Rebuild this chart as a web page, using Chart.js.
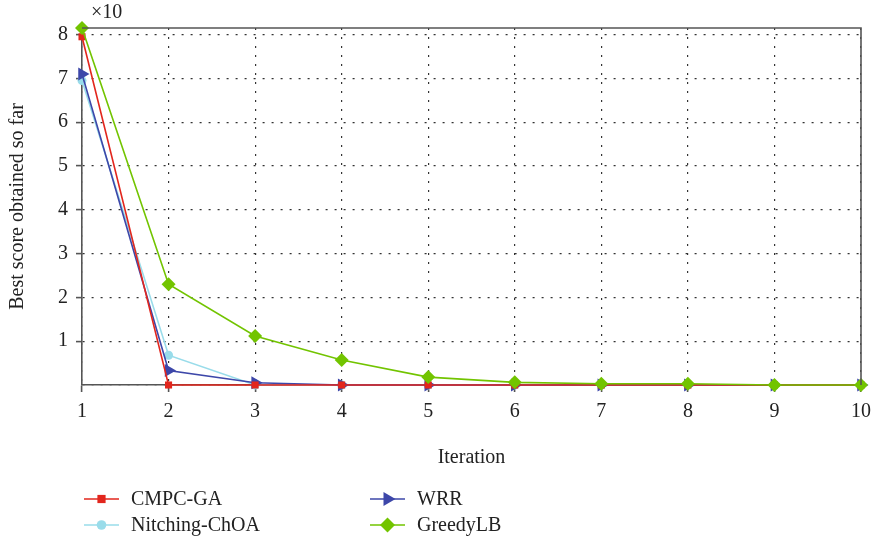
<!DOCTYPE html>
<html>
<head>
<meta charset="utf-8">
<script src="https://cdn.jsdelivr.net/npm/chart.js@4/dist/chart.umd.min.js"></script>
<style>
html,body{margin:0;padding:0;background:#fff;}
#wrap{width:872px;height:546px;position:relative;}
</style>
</head>
<body>
<div id="wrap"><canvas id="c" width="872" height="546"></canvas></div>
<script>
const iterations = ['1','2','3','4','5','6','7','8','9','10'];
const cmpcGA     = [7.95, 0, 0, 0, 0, 0, 0, 0, 0, 0];
const nitching   = [6.95, 0.68, 0, 0, 0, 0, 0, 0, 0, 0];
const wrr        = [7.1, 0.33, 0.05, 0, 0, 0, 0, 0, 0, 0];
const greedyLB   = [8.15, 2.3, 1.12, 0.57, 0.18, 0.06, 0.03, 0.03, 0, 0];
const yTicks     = [1, 2, 3, 4, 5, 6, 7, 8];
const seriesNames = ['CMPC-GA', 'Nitching-ChOA', 'WRR', 'GreedyLB'];
const multiplierLabel = '\u00d710';
const xTitle = 'Iteration';
const yTitle = 'Best score obtained so far';

const FONT = "'Liberation Serif', 'DejaVu Serif', serif";
const colors = ['#e2261d', '#99dcea', '#3d47a9', '#72c400'];
const styles = [
  {pointStyle:'rect', radius:5, rotation:0},
  {pointStyle:'circle', radius:4.5, rotation:0},
  {pointStyle:'triangle', radius:7.5, rotation:90},
  {pointStyle:'rectRot', radius:7, rotation:0}
];
const legendRadius = [5.8, 4.8, 8, 7.5];
const seriesData = [cmpcGA, nitching, wrr, greedyLB];
const orders = [1, 3, 2, 0];

const datasets = seriesData.map((d, i) => ({
  label: seriesNames[i],
  data: d,
  borderColor: colors[i],
  backgroundColor: colors[i],
  pointBackgroundColor: colors[i],
  pointBorderColor: colors[i],
  pointBorderWidth: 0,
  borderWidth: 1.6,
  pointStyle: styles[i].pointStyle,
  pointRadius: styles[i].radius,
  pointRotation: styles[i].rotation,
  pointHoverRadius: styles[i].radius,
  tension: 0,
  clip: false,
  order: orders[i]
}));

const framePlugin = {
  id: 'frame',
  afterDraw(chart) {
    const {ctx, chartArea: a} = chart;
    ctx.save();
    ctx.strokeStyle = '#555';
    ctx.lineWidth = 1.6;
    ctx.beginPath();
    ctx.moveTo(a.left, a.top);
    ctx.lineTo(a.right, a.top);
    ctx.lineTo(a.right, a.bottom);
    ctx.stroke();
    // multiplier
    ctx.fillStyle = '#222';
    ctx.font = '20px ' + FONT;
    ctx.textAlign = 'left';
    ctx.textBaseline = 'middle';
    ctx.fillText(multiplierLabel, a.left + 9, 13);
    // legend
    const pos = [[84, 499], [84, 525], [370, 499], [370, 525]];
    seriesNames.forEach((name, i) => {
      const [x0, y] = pos[i];
      ctx.strokeStyle = colors[i];
      ctx.lineWidth = 1.6;
      ctx.beginPath();
      ctx.moveTo(x0, y);
      ctx.lineTo(x0 + 35, y);
      ctx.stroke();
      ctx.fillStyle = colors[i];
      Chart.helpers.drawPoint(ctx, {
        pointStyle: styles[i].pointStyle,
        radius: legendRadius[i],
        rotation: styles[i].rotation,
        borderWidth: 0
      }, x0 + 17.5, y);
      ctx.fillStyle = '#222';
      ctx.font = '20px ' + FONT;
      ctx.textAlign = 'left';
      ctx.textBaseline = 'middle';
      ctx.fillText(name, x0 + 47, y + 1);
    });
    ctx.restore();
  }
};

new Chart(document.getElementById('c'), {
  type: 'line',
  data: {labels: iterations, datasets},
  options: {
    responsive: false,
    animation: false,
    devicePixelRatio: 1,
    layout: {padding: {top: 28, right: 11, bottom: 71, left: 0}},
    plugins: {legend: {display: false}, tooltip: {enabled: false}},
    scales: {
      x: {
        type: 'category',
        offset: false,
        afterFit(s) { s.height = 90; s.paddingRight = 0; s.paddingLeft = 0; },
        grid: {color: '#333', lineWidth: 1.2, tickColor: '#555', tickLength: 7, tickWidth: 1.6},
        border: {color: '#555', width: 1.6, dash: [2, 7]},
        ticks: {color: '#222', font: {family: FONT, size: 20}, padding: 8, maxRotation: 0, autoSkip: false},
        title: {display: true, text: xTitle, color: '#222', font: {family: FONT, size: 20}, padding: {top: 0, bottom: 5}}
      },
      y: {
        min: 0,
        max: 8.15,
        afterFit(s) { s.width = 82; },
        afterBuildTicks(s) { s.ticks = [0].concat(yTicks).map(v => ({value: v})); },
        grid: {color: '#333', lineWidth: 1.2, tickLength: 6, tickWidth: 1.6,
          tickColor: c => (c.tick && c.tick.value === 0 ? 'rgba(0,0,0,0)' : '#555')},
        border: {color: '#555', width: 1.6, dash: [2, 7]},
        ticks: {color: '#222', font: {family: FONT, size: 20}, padding: 8,
          callback: v => (v === 0 ? '' : String(v))},
        title: {display: true, text: yTitle, color: '#222', font: {family: FONT, size: 20}, padding: {top: 6, bottom: 0}}
      }
    }
  },
  plugins: [framePlugin]
});
</script>
</body>
</html>
